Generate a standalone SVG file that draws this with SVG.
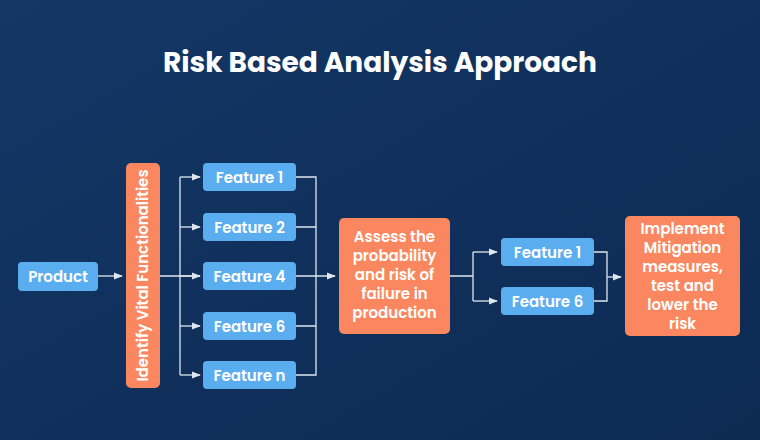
<svg xmlns="http://www.w3.org/2000/svg" width="760" height="440" viewBox="0 0 760 440">
<defs>
<linearGradient id="bg" x1="0" y1="0" x2="1" y2="1"><stop offset="0" stop-color="#143766"/><stop offset="1" stop-color="#0c2a52"/></linearGradient>
<marker id="ah" viewBox="0 0 10 10" refX="9" refY="5" markerWidth="7" markerHeight="7" orient="auto"><path d="M0,1 L10,5 L0,9 Z" fill="#dfe6f0"/></marker>
<style>
.b{fill:#5aaef0}
.o{fill:#fb8760}
.t{font-family:Poppins,"Open Sans","Noto Sans",sans-serif;font-weight:600;fill:#fff;font-size:15px;text-anchor:middle}
.c{fill:none;stroke:#dfe6f0;stroke-width:1.3}
</style>
</defs>
<rect width="760" height="440" fill="url(#bg)"/>
<text x="380" y="72" class="t" style="font-size:28px;font-weight:700">Risk Based Analysis Approach</text>
<g id="connectors">
<path class="c" d="M98,276 H122" marker-end="url(#ah)"/>
<path class="c" d="M160,276 H200"/>
<path class="c" d="M180,177 V375"/>
<path class="c" d="M180,177 H200" marker-end="url(#ah)"/>
<path class="c" d="M180,227 H200" marker-end="url(#ah)"/>
<path class="c" d="M180,276 H200" marker-end="url(#ah)"/>
<path class="c" d="M180,326 H200" marker-end="url(#ah)"/>
<path class="c" d="M180,375 H200" marker-end="url(#ah)"/>
<path class="c" d="M296,177 H316 V375 H296 M296,227 H316 M296,326 H316"/>
<path class="c" d="M296,276 H335" marker-end="url(#ah)"/>
<path class="c" d="M450,276 H473 M473,252 V301"/>
<path class="c" d="M473,252 H497" marker-end="url(#ah)"/>
<path class="c" d="M473,301 H497" marker-end="url(#ah)"/>
<path class="c" d="M594,252 H607 V301 H594"/>
<path class="c" d="M607,277 H621" marker-end="url(#ah)"/>
</g>
<g id="product"><rect class="b" x="18" y="262" width="80" height="29" rx="4"/><text class="t" x="58" y="282">Product</text></g>
<g id="identify"><rect class="o" x="126" y="163" width="34" height="225" rx="5"/><text class="t" transform="translate(148,275.5) rotate(-90)">Identify Vital Functionalities</text></g>
<g id="f1"><rect class="b" x="203" y="163" width="93" height="28" rx="4"/><text class="t" x="249.5" y="183">Feature 1</text></g>
<g id="f2"><rect class="b" x="203" y="213" width="93" height="28" rx="4"/><text class="t" x="249.5" y="233">Feature 2</text></g>
<g id="f4"><rect class="b" x="203" y="262" width="93" height="28" rx="4"/><text class="t" x="249.5" y="282">Feature 4</text></g>
<g id="f6"><rect class="b" x="203" y="312" width="93" height="28" rx="4"/><text class="t" x="249.5" y="332">Feature 6</text></g>
<g id="fn"><rect class="b" x="203" y="361" width="93" height="28" rx="4"/><text class="t" x="249.5" y="381">Feature n</text></g>
<g id="assess"><rect class="o" x="339" y="218" width="111" height="116" rx="5"/>
<text class="t" x="394.5" y="242">Assess the</text><text class="t" x="394.5" y="261">probability</text><text class="t" x="394.5" y="280">and risk of</text><text class="t" x="394.5" y="299">failure in</text><text class="t" x="394.5" y="318">production</text></g>
<g id="f1b"><rect class="b" x="501" y="238" width="93" height="28" rx="4"/><text class="t" x="547.5" y="258">Feature 1</text></g>
<g id="f6b"><rect class="b" x="501" y="287" width="93" height="28" rx="4"/><text class="t" x="547.5" y="307">Feature 6</text></g>
<g id="implement"><rect class="o" x="625" y="216" width="115" height="120" rx="5"/>
<text class="t" x="682.5" y="234">Implement</text><text class="t" x="682.5" y="253">Mitigation</text><text class="t" x="682.5" y="272">measures,</text><text class="t" x="682.5" y="291">test and</text><text class="t" x="682.5" y="310">lower the</text><text class="t" x="682.5" y="329">risk</text></g>
</svg>
